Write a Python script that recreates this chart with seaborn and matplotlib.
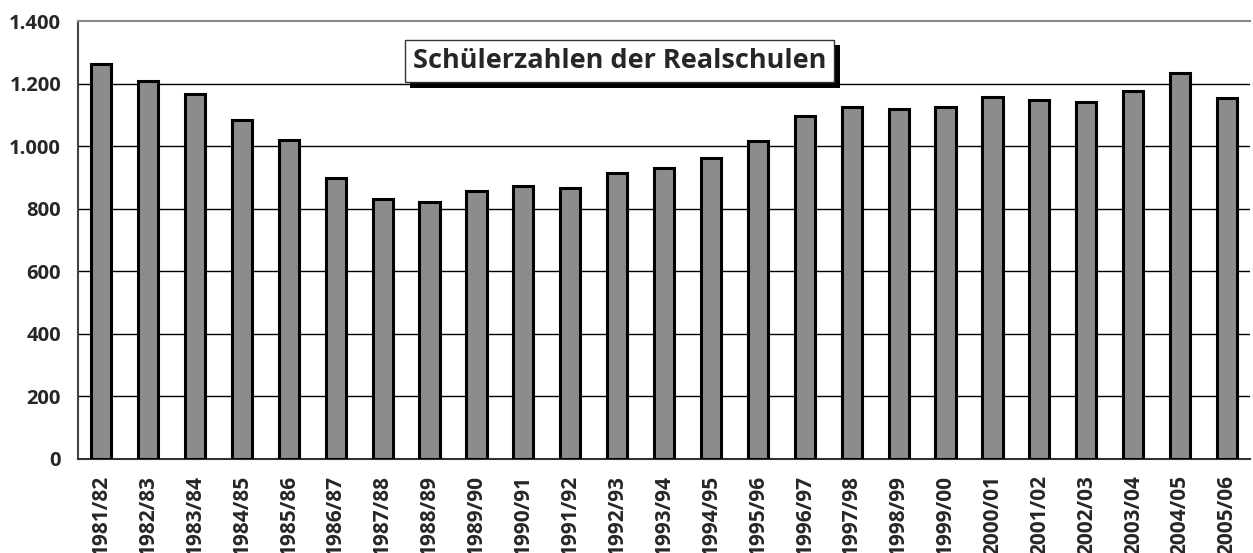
import numpy as np
import pandas as pd
import matplotlib
matplotlib.use("Agg")
import matplotlib.pyplot as plt
import matplotlib.patheffects as pe
from matplotlib.ticker import FuncFormatter
import seaborn as sns

# data
school_years = ["1981/82", "1982/83", "1983/84", "1984/85", "1985/86", "1986/87",
                "1987/88", "1988/89", "1989/90", "1990/91", "1991/92", "1992/93",
                "1993/94", "1994/95", "1995/96", "1996/97", "1997/98", "1998/99",
                "1999/00", "2000/01", "2001/02", "2002/03", "2003/04", "2004/05",
                "2005/06"]
students = [1263, 1208, 1166, 1083, 1019, 898, 831, 821, 856, 872, 866, 914,
            930, 962, 1016, 1096, 1125, 1118, 1125, 1157, 1147, 1141, 1176, 1234,
            1154]
title = "Schülerzahlen der Realschulen"

df = pd.DataFrame({"jahr": school_years, "schueler": students})

sns.set_style("white")
plt.rcParams["font.family"] = ["Open Sans", "DejaVu Sans"]
plt.rcParams["font.weight"] = "bold"

fig = plt.figure(figsize=(12.53, 5.53), dpi=100)
ax = fig.add_axes([0.062, 0.170, 0.936, 0.792])

sns.barplot(data=df, x="jahr", y="schueler", color="#8c8c8c", saturation=1,
            width=0.43, edgecolor="black", linewidth=2.2, ax=ax, zorder=3)

ax.set_ylim(0, 1400)
ax.set_xlim(-0.5, len(school_years) - 0.5)
ax.set_yticks(np.arange(0, 1401, 200))
ax.yaxis.set_major_formatter(FuncFormatter(lambda v, p: f"{int(v):,}".replace(",", ".")))
for y in range(200, 1400, 200):
    ax.axhline(y, color="black", lw=1, zorder=1)

ax.set_xlabel("")
ax.set_ylabel("")

# category separator ticks on the x axis
ax.set_xticks(np.arange(-0.5, len(school_years), 1), minor=True)
ax.tick_params(axis="x", which="major", length=0, pad=11.5, rotation=90, labelsize=15)
ax.tick_params(axis="x", which="minor", length=6, width=1.2, color="#333333", direction="out")
ax.tick_params(axis="y", length=6, width=1.2, color="#333333", direction="out", pad=6,
               labelsize=14.5)

ax.spines["right"].set_visible(False)
ax.spines["top"].set_color("#888888")
ax.spines["top"].set_linewidth(1.5)
ax.spines["left"].set_color("#444444")
ax.spines["left"].set_linewidth(1.5)
ax.spines["bottom"].set_color("#333333")
ax.spines["bottom"].set_linewidth(1.5)

t = ax.text(0.462, 0.909, title, transform=ax.transAxes, ha="center", va="center",
            fontsize=19.5, fontweight="bold", zorder=5,
            bbox=dict(boxstyle="square,pad=0.3", fc="white", ec="#333333", lw=1))
t.get_bbox_patch().set_path_effects([
    pe.SimplePatchShadow(offset=(4, -4), shadow_rgbFace="black", alpha=1),
    pe.Normal()])

fig.savefig("out.png", dpi=100)
